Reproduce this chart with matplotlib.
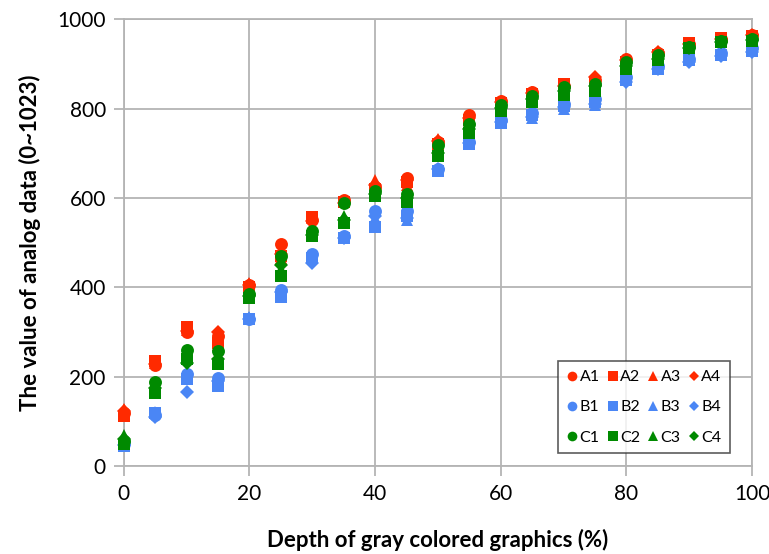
import matplotlib.pyplot as plt
import numpy as np

# Depth of gray (%)
depth = [0, 5, 10, 15, 20, 25, 30, 35, 40, 45, 50, 55, 60, 65, 70, 75, 80, 85, 90, 95, 100]

# Analog values (0~1023)
A1 = [118, 225, 300, 290, 405, 497, 550, 595, 625, 645, 725, 785, 818, 838, 850, 865, 912, 925, 945, 955, 965]
A2 = [112, 235, 310, 275, 400, 470, 558, 590, 620, 635, 720, 775, 812, 832, 855, 860, 905, 920, 948, 958, 962]
A3 = [128, 230, 305, 270, 410, 465, 555, 592, 640, 630, 733, 770, 815, 835, 852, 872, 908, 922, 944, 955, 963]
A4 = [122, 228, 302, 300, 405, 475, 548, 588, 630, 640, 728, 780, 814, 836, 850, 870, 910, 928, 946, 956, 964]

B1 = [48, 115, 205, 198, 330, 395, 475, 515, 570, 570, 665, 725, 775, 790, 810, 822, 870, 895, 912, 925, 935]
B2 = [45, 118, 195, 178, 328, 378, 465, 510, 535, 560, 660, 720, 768, 785, 805, 815, 865, 890, 910, 920, 930]
B3 = [50, 120, 200, 185, 333, 385, 470, 512, 555, 550, 662, 722, 772, 780, 800, 808, 868, 892, 912, 922, 932]
B4 = [47, 110, 165, 190, 330, 390, 455, 510, 560, 555, 664, 724, 770, 782, 803, 810, 860, 888, 905, 918, 928]

C1 = [55, 188, 260, 258, 385, 470, 525, 588, 615, 608, 718, 765, 808, 828, 848, 855, 905, 920, 938, 952, 955]
C2 = [50, 163, 240, 228, 375, 425, 515, 545, 605, 590, 695, 745, 795, 815, 830, 840, 890, 910, 935, 950, 952]
C3 = [70, 170, 245, 235, 378, 440, 520, 560, 610, 595, 705, 750, 800, 820, 838, 848, 898, 915, 936, 951, 953]
C4 = [60, 175, 230, 240, 380, 450, 518, 550, 608, 600, 700, 755, 802, 822, 840, 850, 895, 912, 937, 950, 954]

series = {
    "A1": A1, "A2": A2, "A3": A3, "A4": A4,
    "B1": B1, "B2": B2, "B3": B3, "B4": B4,
    "C1": C1, "C2": C2, "C3": C3, "C4": C4,
}
colors = {"A": "#ff2a00", "B": "#4a86f5", "C": "#008a00"}
markers = {"1": "o", "2": "s", "3": "^", "4": "D"}

plt.rcParams['font.family'] = ['Lato', 'DejaVu Sans']

fig = plt.figure(figsize=(7.69, 5.54), dpi=100)
ax = fig.add_axes([0.161, 0.159, 0.817, 0.806])

handles = {}
for name, vals in series.items():
    mk = markers[name[1]]
    ms = 9.3 if mk != "D" else 7.2
    h, = ax.plot(depth, vals, linestyle="none", marker=mk, markersize=ms,
                 color=colors[name[0]], markeredgewidth=0, clip_on=False, label=name, zorder=3)
    handles[name] = h

ax.set_xlim(0, 100)
ax.set_ylim(0, 1000)
ax.set_xticks(np.arange(0, 101, 20))
ax.set_yticks(np.arange(0, 1001, 200))
ax.grid(True, color="#b4b4b4", linewidth=1.3)
ax.set_axisbelow(True)
for sp in ax.spines.values():
    sp.set_color("#b4b4b4")
    sp.set_linewidth(1.3)
ax.tick_params(axis="both", colors="#b4b4b4", length=7, width=1.3, labelcolor="black",
               labelsize=15, pad=6)

ax.set_xlabel("Depth of gray colored graphics (%)", fontsize=16, fontweight="bold", labelpad=18)
ax.set_ylabel("The value of analog data (0~1023)", fontsize=16, fontweight="bold", labelpad=12)

# legend fills column by column, so order to get A row, B row, C row
order = [f"{g}{i}" for i in "1234" for g in "ABC"]
leg = ax.legend([handles[n] for n in order], order, ncol=4, loc="lower right",
                bbox_to_anchor=(0.965, 0.028), fontsize=11.5, frameon=True, fancybox=False,
                handlelength=0.7, handletextpad=0.12, columnspacing=0.45, labelspacing=1.0,
                borderpad=0.55, borderaxespad=0, markerscale=0.75)
leg.get_frame().set_edgecolor("#333333")
leg.get_frame().set_linewidth(1.2)

fig.savefig("out.png", dpi=100)
